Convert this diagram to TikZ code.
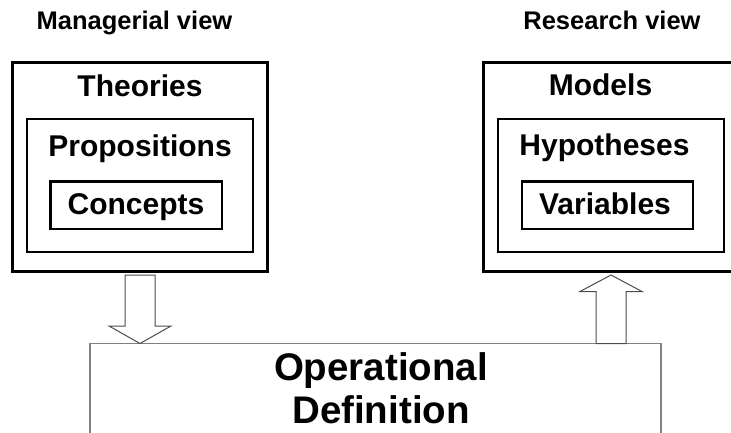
\documentclass[tikz,border=0pt]{standalone}
\usepackage{fontspec}
\setmainfont{Liberation Sans}
\usetikzlibrary{calc}
\tikzset{
  thickbox/.style={draw=black, line width=3pt, fill=none},
  innerbox/.style={draw=black, line width=2.6pt, fill=none},
  opbox/.style={draw=black!50, line width=1.4pt, fill=none},
  blockarrow/.style={draw=black!70, line width=1pt, fill=white, line join=miter},
  title/.style={inner sep=0pt, anchor=base, font=\bfseries\fontsize{25.5}{30}\selectfont},
  label/.style={inner sep=0pt, anchor=base, font=\bfseries\fontsize{30}{36}\selectfont},
  biglabel/.style={inner sep=0pt, anchor=north, align=center, font=\bfseries\fontsize{38.5}{43}\selectfont}
}
\begin{document}
\begin{tikzpicture}[x=1pt, y=-1pt]
\useasboundingbox (0,0) rectangle (731,432);
\clip (0,0) rectangle (731,432);
% Left stack
\draw[thickbox] (12.5,62.5) rectangle (267,271);
\draw[innerbox] (27,119) rectangle (253,252);
\draw[innerbox] (50.5,181.5) rectangle (222,229);
% Right stack
\draw[thickbox] (483.5,62.5) rectangle (740,271);
\draw[innerbox] (498,119) rectangle (724,252);
\draw[innerbox] (522,181.5) rectangle (693,229);
% Bottom box
\draw[opbox] (90,343.5) rectangle (661,440);
% Coordinates for arrows
\coordinate (leftbot) at (140,271);
\coordinate (optopL) at (140,343.5);
\coordinate (optopR) at (611,343.5);
\coordinate (rightbot) at (611,271);
% Down arrow
\draw[blockarrow] ($(leftbot)+(-15,4)$) -- ($(leftbot)+(15,4)$) -- ($(optopL)+(15,-17.5)$) -- ($(optopL)+(31,-17.5)$) -- (optopL) -- ($(optopL)+(-31,-17.5)$) -- ($(optopL)+(-15,-17.5)$) -- cycle;
% Up arrow
\draw[blockarrow] ($(optopR)+(-15,0)$) -- ($(rightbot)+(-15,20.5)$) -- ($(rightbot)+(-31,20.5)$) -- ($(rightbot)+(0,4)$) -- ($(rightbot)+(31,20.5)$) -- ($(rightbot)+(15,20.5)$) -- ($(optopR)+(15,0)$) -- cycle;
% Texts
\node[title] (mview) at (134.5,29) {Managerial view};
\node[title] (rview) at (612,29) {Research view};
\node[label] (theories) at (140,96) {Theories};
\node[label] (props) at (140,156.5) {Propositions};
\node[label] (concepts) at (136,214.5) {Concepts};
\node[label] (models) at (600.5,95.5) {Models};
\node[label] (hyp) at (604.5,155.5) {Hypotheses};
\node[label] (vars) at (605,214.5) {Variables};
\node[biglabel] (opdef) at (381,352) {Operational\\Definition};
\end{tikzpicture}
\end{document}
